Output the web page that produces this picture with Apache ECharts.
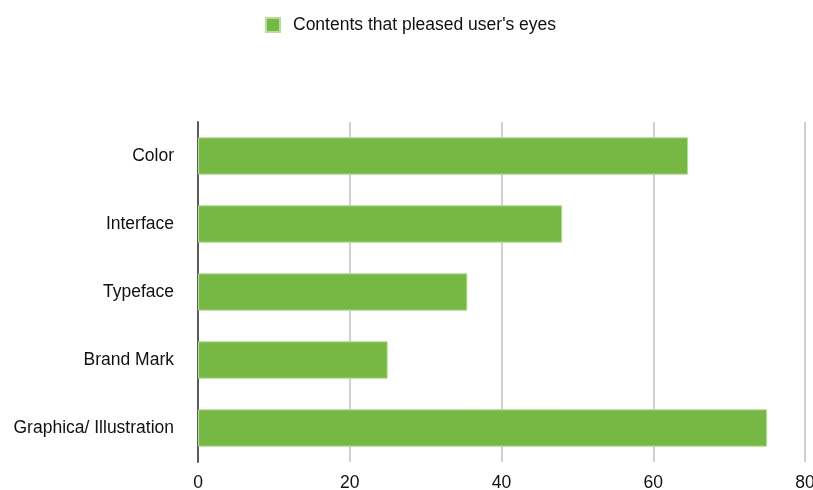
<!DOCTYPE html>
<html>
<head>
<meta charset="utf-8">
<script src="https://cdn.jsdelivr.net/npm/echarts@6/dist/echarts.min.js"></script>
<style>
  html, body { margin: 0; padding: 0; background: #ffffff; }
  #chart { width: 813px; height: 490px; }
</style>
</head>
<body>
<div id="chart"></div>
<script>
// Categories from top to bottom
const categories = ['Color', 'Interface', 'Typeface', 'Brand Mark', 'Graphica/ Illustration'];
const values = [64.6, 48, 35.5, 25, 75];
const seriesName = "Contents that pleased user's eyes";
const xTicks = [0, 20, 40, 60, 80];

const chart = echarts.init(document.getElementById('chart'), null, { renderer: 'canvas' });
const font = '"Liberation Sans", Arial, Helvetica, sans-serif';

chart.setOption({
  animation: false,
  legend: {
    top: 16,
    left: 265,
    padding: 0,
    itemWidth: 14,
    itemHeight: 14,
    itemGap: 14,
    icon: 'rect',
    textStyle: { fontFamily: font, fontSize: 17.5, color: '#111', padding: [0, 0, 0, 8] },
    data: [seriesName]
  },
  grid: { left: 198, right: 8, top: 122, bottom: 28, containLabel: false, outerBoundsMode: 'none' },
  xAxis: {
    type: 'value',
    min: xTicks[0],
    max: xTicks[xTicks.length - 1],
    interval: 20,
    axisLine: { show: false },
    axisTick: { show: false },
    splitLine: { show: true, lineStyle: { color: '#cfcfcf', width: 2 } },
    axisLabel: { fontFamily: font, fontSize: 17.5, color: '#111', margin: 12 }
  },
  yAxis: {
    type: 'category',
    inverse: true,
    data: categories,
    axisLine: { show: true, lineStyle: { color: '#5a5a5a', width: 2 } },
    axisTick: { show: false },
    axisLabel: { fontFamily: font, fontSize: 17.5, color: '#111', margin: 24 }
  },
  series: [{
    name: seriesName,
    type: 'bar',
    data: values,
    barWidth: '55%',
    itemStyle: { color: '#76b843', borderColor: '#b5dd9b', borderWidth: 1 }
  }]
});
</script>
</body>
</html>
